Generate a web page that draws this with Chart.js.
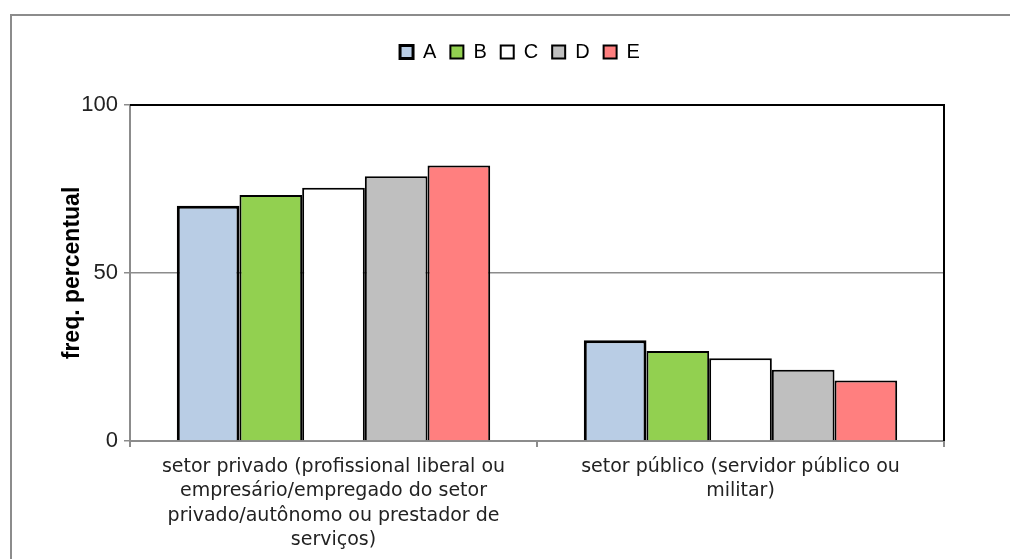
<!DOCTYPE html>
<html>
<head>
<meta charset="utf-8">
<script src="https://cdn.jsdelivr.net/npm/chart.js@4.4.1/dist/chart.umd.min.js"></script>
<style>
  html, body { margin: 0; padding: 0; background: #fff; }
  #wrap { width: 1010px; height: 559px; position: relative; }
</style>
</head>
<body>
<div id="wrap"><canvas id="chart"></canvas></div>
<script>
const categories = [
    ['setor privado (profissional liberal ou', 'empresário/empregado do setor', 'privado/autônomo ou prestador de', 'serviços)'],
    ['setor público (servidor público ou', 'militar)']
];
const seriesNames = ['A', 'B', 'C', 'D', 'E'];
const valuesA = [70.0, 30.0];
const valuesB = [73.2, 26.8];
const valuesC = [75.4, 24.6];
const valuesD = [78.8, 21.2];
const valuesE = [82.0, 18.0];
const yTicks = [0, 50, 100];

const fills = ['#B9CDE5', '#92D050', '#FFFFFF', '#BFBFBF', '#FF7F7F'];
const allValues = [valuesA, valuesB, valuesC, valuesD, valuesE];

// outer frame + black top/right edge of plot area
const framePlugin = {
    id: 'frame',
    afterInit(chart) {
        const lg = chart.legend;
        const fit = lg.fit;
        lg.fit = function () { fit.call(this); this.height = 77; };
        const draw = lg.draw;
        lg.draw = function () {
            chart.ctx.save();
            chart.ctx.translate(48, 0);
            draw.call(this);
            chart.ctx.restore();
        };
    },
    beforeDraw(chart) {
        const c = chart.ctx;
        c.save();
        c.strokeStyle = '#8c8c8c';
        c.lineWidth = 2;
        c.strokeRect(11, 15, 1010, 600);
        c.restore();
    },
    afterDatasetsDraw(chart) {
        const a = chart.chartArea;
        const c = chart.ctx;
        c.save();
        c.strokeStyle = '#000';
        c.lineWidth = 2;
        c.beginPath();
        c.moveTo(a.left, a.top);
        c.lineTo(a.right, a.top);
        c.lineTo(a.right, a.bottom);
        c.stroke();
        c.restore();
    }
};

new Chart(document.getElementById('chart').getContext('2d'), {
    type: 'bar',
    data: {
        labels: categories,
        datasets: seriesNames.map((name, i) => ({
            label: name,
            data: allValues[i],
            backgroundColor: fills[i],
            borderColor: '#000',
            borderWidth: i === 0 ? 3 : 2,
            borderSkipped: 'bottom',
            categoryPercentage: 0.77,
            barPercentage: 1.0
        }))
    },
    options: {
        responsive: true,
        maintainAspectRatio: false,
        animation: false,
        layout: { padding: { top: 28, right: 66, left: 0, bottom: 0 } },
        plugins: {
            legend: {
                position: 'top',
                labels: {
                    boxWidth: 13,
                    boxHeight: 13,
                    padding: 14,
                    color: '#000',
                    font: { family: "'Liberation Sans', Arial", size: 20 }
                }
            },
            tooltip: { enabled: false }
        },
        scales: {
            x: {
                grid: { drawOnChartArea: false, drawTicks: true, tickLength: 6, color: '#8c8c8c', lineWidth: 2 },
                border: { color: '#8c8c8c', width: 2 },
                ticks: {
                    color: '#222',
                    maxRotation: 0,
                    autoSkip: false,
                    padding: 8,
                    font: { family: 'DejaVu Sans', size: 19, lineHeight: 1.28 }
                },
                afterFit(scale) { scale.height = 118; }
            },
            y: {
                min: 0,
                max: 100,
                afterBuildTicks(scale) { scale.ticks = yTicks.map(v => ({ value: v })); },
                grid: { color: '#8c8c8c', lineWidth: 1.5, tickLength: 6 },
                border: { color: '#8c8c8c', width: 2 },
                ticks: {
                    color: '#222',
                    padding: 6,
                    font: { family: "'Liberation Sans', Arial", size: 22 }
                },
                title: {
                    display: true,
                    text: 'freq. percentual',
                    color: '#000',
                    padding: { top: 59, bottom: 14 },
                    font: { family: "'Liberation Sans', Arial", size: 23, weight: 'bold' }
                },
                afterFit(scale) { scale.width = 130; }
            }
        }
    },
    plugins: [framePlugin]
});
</script>
</body>
</html>
